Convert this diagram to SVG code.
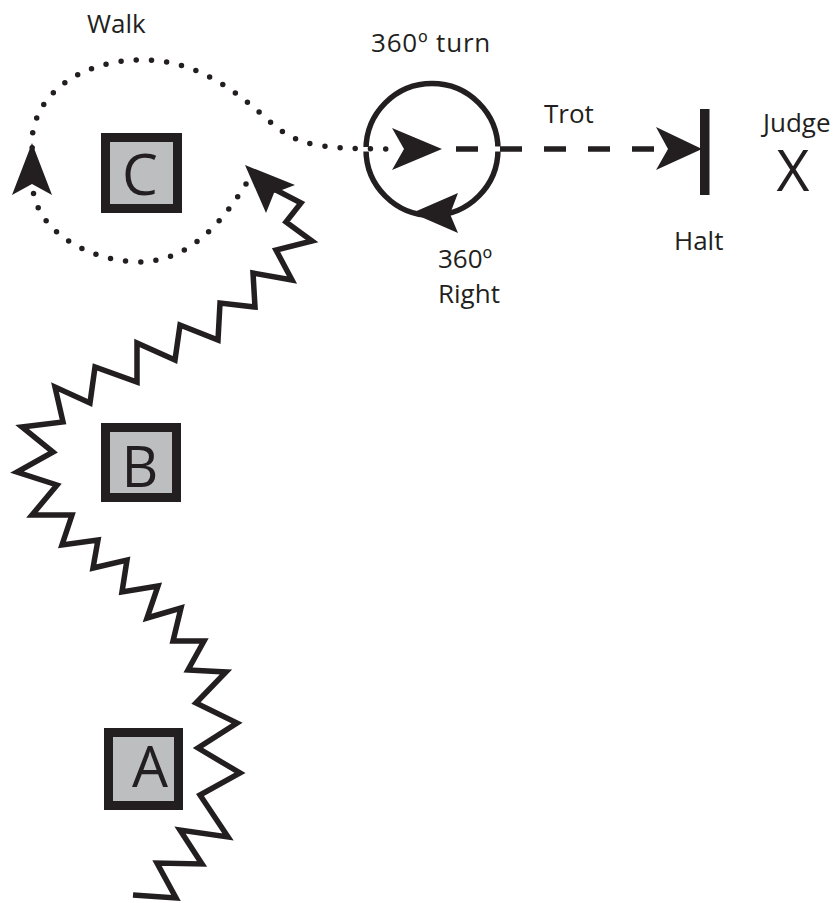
<svg xmlns="http://www.w3.org/2000/svg" width="836" height="903" viewBox="0 0 836 903">
<style>
.lbl{font-family:"Open Sans","Noto Sans","Liberation Sans",sans-serif;font-size:26px;fill:#231f20}
.big{font-family:"Open Sans","Noto Sans","Liberation Sans",sans-serif;font-size:57px;fill:#231f20;text-anchor:middle}
.box{fill:#bcbec0;stroke:#231f20;stroke-width:9}
.ink{fill:#231f20}
.zig{fill:none;stroke:#231f20;stroke-width:5.5;stroke-linejoin:miter;stroke-miterlimit:10}
.dots{fill:none;stroke:#231f20;stroke-width:5.5;stroke-linecap:round;stroke-dasharray:0 15.2}
.dash{fill:none;stroke:#231f20;stroke-width:5.5;stroke-dasharray:22 22}
</style>
<rect width="836" height="903" fill="#ffffff"/>
<g id="marker-C"><rect class="box" x="105.5" y="137.5" width="72" height="71"/><text class="big" x="140" y="195">C</text></g>
<g id="marker-B"><rect class="box" x="105.5" y="427.5" width="71" height="70"/><text class="big" x="140" y="487">B</text></g>
<g id="marker-A"><rect class="box" x="108.5" y="732.5" width="70" height="73"/><text class="big" x="150" y="787">A</text></g>
<g id="turn-circle"><circle cx="432" cy="149.5" r="66" fill="none" stroke="#231f20" stroke-width="5.5"/></g>
<g id="halt"><rect class="ink" x="700" y="109" width="9.5" height="86"/><text class="lbl" x="674" y="250">Halt</text></g>
<g id="judge"><text class="lbl" x="763" y="132">Judge</text><text class="big" x="793" y="191">X</text></g>
<g id="labels">
<text class="lbl" x="87" y="33">Walk</text>
<text class="lbl" x="371" y="52" letter-spacing="0.8">360º turn</text>
<text class="lbl" x="544" y="123">Trot</text>
<text class="lbl" x="438" y="268">360º</text>
<text class="lbl" x="438" y="303">Right</text>
</g>
<g id="connectors">
<path class="zig" d="M133,895 L176,898 L157,863 L202,864 L180,830 L228,837 L200,795 L240,773 L198,748 L237,723 L196,703 L226,672 L188,670 L204,641 L173,641 L181,608 L147,618 L158,586 L122,592 L127,560 L93,568 L98,540 L62,545 L72,515 L32,515 L57,485 L17,472 L53,452 L22,427 L63,422 L55,387 L90,403 L95,367 L137,382 L137,343 L175,360 L180,325 L218,340 L220,303 L255,307 L253,273 L292,280 L276,250 L312,241 L286,222 L301,203 L276,190"/>
<polygon class="ink" points="245,165 295,185 274,193 266,213"/>
<rect x="362" y="147" width="8" height="4.5" fill="#ffffff"/>
<rect x="494" y="146.5" width="8" height="5" fill="#ffffff"/>
<path class="dots" d="M246,184 C222,222 190,262 138,262 C85,260 38,230 33,190 L32,140 C34,95 80,60 142,60 C205,60 245,100 275,126 C300,146 320,149 400,149"/>
<polygon class="ink" points="32,143 52,195 32,184 12,195"/>
<polygon class="ink" points="442,149 392,128 404,149 392,170"/>
<path class="dash" d="M456,149 L660,149"/>
<polygon class="ink" points="702,149 656,127 668,149 656,170"/>
<polygon class="ink" points="412,213 458,193 450,214 458,233"/>
</g>
</svg>
